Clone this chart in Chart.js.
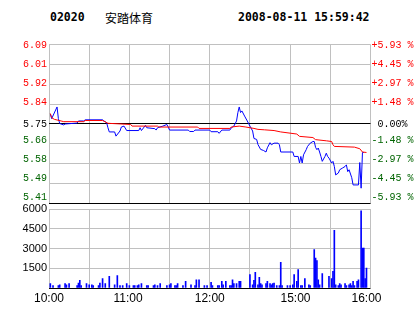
<!DOCTYPE html>
<html>
<head>
<meta charset="utf-8">
<script src="https://cdn.jsdelivr.net/npm/chart.js@4.4.0/dist/chart.umd.min.js"></script>
<style>
  body { margin: 0; background: #fff; }
  #wrap { position: relative; width: 414px; height: 314px; overflow: hidden; background: #fff; }
  #wrap canvas { position: absolute; left: 0; top: 0; }
  .hd { position: absolute; top: 10px; line-height: 12px; white-space: pre; color: #000; }
  .mono { font: bold 11.5px "DejaVu Sans Mono", monospace; }
  .name { top: 9px; font: 12px "Noto Sans CJK SC", sans-serif; }
</style>
</head>
<body>
<div id="wrap">
  <div class="hd mono" style="left:50px">02020</div>
  <div class="hd name" style="left:105px">安踏体育</div>
  <div class="hd mono" style="left:238px">2008-08-11 15:59:42</div>
  <canvas id="priceChart" width="414" height="314"></canvas>
  <canvas id="volumeChart" width="414" height="314"></canvas>
</div>
<script>
// x values are trading minutes after 10:00 (12:30-14:30 lunch break left out, 240 in total)
const priceMinutes = [1, 2, 6, 7, 8, 11, 12, 21, 22, 26, 27, 40, 41, 43, 44, 45, 49, 50, 53, 54, 56, 58, 67, 68, 69, 72, 73, 79, 80, 81, 85, 88, 89, 90, 104, 105, 108, 109, 120, 121, 126, 127, 129, 135, 136, 138, 140, 141, 142, 143, 144, 146, 148, 150, 152, 153, 155, 156, 158, 160, 162, 163, 165, 166, 168, 171, 172, 173, 182, 183, 186, 187, 188, 189, 190, 192, 193, 195, 197, 198, 199, 200, 201, 202, 203, 204, 206, 207, 208, 209, 211, 212, 213, 214, 216, 217, 219, 221, 222, 223, 224, 226, 227, 231, 232, 233, 234, 235];
const prices = [5.793, 5.773, 5.823, 5.773, 5.752, 5.746, 5.750, 5.754, 5.763, 5.763, 5.768, 5.768, 5.763, 5.756, 5.734, 5.716, 5.716, 5.698, 5.720, 5.737, 5.741, 5.722, 5.722, 5.734, 5.722, 5.744, 5.734, 5.730, 5.724, 5.734, 5.741, 5.748, 5.737, 5.724, 5.724, 5.718, 5.718, 5.724, 5.724, 5.717, 5.717, 5.710, 5.724, 5.724, 5.733, 5.741, 5.763, 5.799, 5.823, 5.799, 5.806, 5.784, 5.763, 5.741, 5.720, 5.688, 5.684, 5.662, 5.641, 5.637, 5.630, 5.648, 5.670, 5.661, 5.668, 5.668, 5.661, 5.630, 5.630, 5.611, 5.611, 5.583, 5.611, 5.583, 5.618, 5.640, 5.654, 5.668, 5.675, 5.675, 5.650, 5.640, 5.647, 5.630, 5.611, 5.590, 5.611, 5.625, 5.611, 5.604, 5.583, 5.590, 5.568, 5.532, 5.540, 5.554, 5.561, 5.568, 5.575, 5.546, 5.554, 5.520, 5.489, 5.489, 5.585, 5.475, 5.628, 5.628];

const avgMinutes = [1, 2, 4, 9, 11, 26, 27, 40, 44, 61, 62, 81, 82, 111, 112, 135, 136, 142, 147, 153, 156, 161, 168, 173, 185, 187, 197, 199, 207, 211, 212, 213, 228, 232, 234, 237];
const avgPrices = [5.795, 5.777, 5.770, 5.763, 5.760, 5.760, 5.765, 5.765, 5.753, 5.748, 5.741, 5.741, 5.737, 5.737, 5.731, 5.731, 5.737, 5.741, 5.737, 5.731, 5.727, 5.725, 5.722, 5.716, 5.707, 5.697, 5.692, 5.683, 5.678, 5.675, 5.661, 5.654, 5.651, 5.644, 5.630, 5.628];

const volMinutes = [1, 3, 7, 8, 12, 13, 15, 21, 22, 23, 24, 28, 30, 32, 33, 37, 38, 40, 42, 45, 49, 51, 53, 55, 58, 60, 63, 64, 66, 67, 69, 73, 74, 78, 79, 81, 83, 88, 90, 91, 94, 95, 96, 100, 102, 106, 109, 110, 112, 116, 118, 121, 122, 126, 127, 129, 130, 132, 135, 136, 137, 138, 140, 142, 143, 150, 152, 153, 154, 156, 157, 158, 159, 162, 163, 165, 166, 167, 168, 170, 172, 173, 174, 178, 180, 182, 183, 185, 186, 188, 189, 191, 194, 195, 198, 199, 200, 201, 202, 204, 209, 211, 212, 213, 214, 216, 217, 218, 221, 222, 224, 225, 226, 227, 228, 230, 231, 233, 234, 235, 236, 237];
const volumes = [330, 180, 180, 250, 330, 250, 330, 180, 380, 580, 180, 330, 250, 250, 180, 180, 380, 710, 330, 890, 250, 940, 180, 180, 330, 180, 180, 180, 180, 250, 330, 180, 180, 180, 250, 180, 330, 180, 250, 330, 180, 180, 330, 180, 510, 250, 180, 630, 630, 180, 180, 430, 180, 180, 180, 510, 250, 510, 180, 180, 630, 330, 330, 510, 510, 1010, 250, 580, 1190, 250, 810, 330, 250, 330, 510, 330, 250, 330, 380, 180, 180, 1950, 180, 180, 180, 250, 1010, 510, 1390, 180, 180, 710, 250, 180, 2910, 2280, 2080, 630, 250, 1090, 890, 710, 1270, 4380, 250, 180, 330, 250, 330, 180, 250, 330, 180, 510, 180, 510, 630, 5870, 3040, 3040, 710, 1520];

const prevClose = 5.75;
const priceTickLabels = ["5.41", "5.49", "5.58", "5.66", "5.75", "5.84", "5.92", "6.01", "6.09"];
const pctTickLabels = ["-5.93 %", "-4.45 %", "-2.97 %", "-1.48 %", " 0.00%", "+1.48 %", "+2.97 %", "+4.45 %", "+5.93 %"];
const volTickLabels = ["", "1500", "3000", "4500", "6000"];
const timeLabels = ["10:00", "11:00", "12:00", "15:00", "16:00"];
const timeLabelMinutes = [0, 59, 120, 184, 237];

const GRID = "#c0c0c0";
const UP = "#ff0000";
const DOWN = "#006400";

const pts = (xs, ys) => xs.map((x, i) => ({ x: x, y: ys[i] }));

const lo = prevClose * (1 - 0.0593);
const hi = prevClose * (1 + 0.0593);

// labels sit on a slightly tighter pitch than the grid, 0.00% stays on its line
const labelMin = -0.35, labelMax = 8.03;
const labelSlots = priceTickLabels.map((_, i) => (i === 4 ? (labelMin + labelMax) / 2 : i));

const labelColor = (ctx) => (ctx.index < 4 ? DOWN : ctx.index > 4 ? UP : "#000");
const monoFont = { family: "Liberation Mono", size: 10 };

const timeGrid = {
  type: "linear",
  min: 0,
  max: 240,
  offset: false,
  ticks: { display: false, stepSize: 30 },
  grid: { color: GRID, drawTicks: false, offset: false },
  border: { display: false },
  afterFit: (axis) => { axis.height = 0; },
};

new Chart(document.getElementById("priceChart"), {
  type: "line",
  data: {
    datasets: [
      { data: pts(avgMinutes, avgPrices), borderColor: UP, borderWidth: 1, pointRadius: 0 },
      { data: pts(priceMinutes, prices), borderColor: "#0000ff", borderWidth: 1, pointRadius: 0 },
    ],
  },
  options: {
    responsive: false,
    animation: false,
    layout: { padding: { top: 44.4, bottom: 110.4, left: 0, right: 0 } },
    plugins: { legend: { display: false }, tooltip: { enabled: false } },
    scales: {
      x: timeGrid,
      y: {
        min: lo,
        max: hi,
        afterBuildTicks: (axis) => {
          axis.ticks = priceTickLabels.map((_, i) => ({ value: lo + (i * (hi - lo)) / 8 }));
        },
        ticks: { display: false },
        grid: { color: (ctx) => (ctx.index === 0 || ctx.index === 4 ? "#000" : GRID), drawTicks: false },
        border: { display: false },
        afterFit: (axis) => { axis.width = 0; },
      },
      yl: {
        position: "left",
        min: labelMin,
        max: labelMax,
        afterBuildTicks: (axis) => { axis.ticks = labelSlots.map((v) => ({ value: v })); },
        ticks: { callback: (v, i) => priceTickLabels[i], color: labelColor, font: monoFont, padding: 2, autoSkip: false },
        grid: { display: false, drawTicks: false },
        border: { display: false },
        afterFit: (axis) => { axis.width = 49; },
      },
      yr: {
        position: "right",
        min: labelMin,
        max: labelMax,
        afterBuildTicks: (axis) => { axis.ticks = labelSlots.map((v) => ({ value: v })); },
        ticks: { callback: (v, i) => pctTickLabels[i], color: labelColor, font: monoFont, padding: 1, autoSkip: false },
        grid: { display: false, drawTicks: false },
        border: { display: false },
        afterFit: (axis) => { axis.width = 43.5; },
      },
    },
  },
});

new Chart(document.getElementById("volumeChart"), {
  type: "bar",
  data: {
    datasets: [
      { data: pts(volMinutes, volumes), backgroundColor: "#0000ff", barThickness: 1 },
    ],
  },
  options: {
    responsive: false,
    animation: false,
    layout: { padding: { top: 209, bottom: 6, left: 0, right: 43.5 } },
    plugins: { legend: { display: false }, tooltip: { enabled: false } },
    scales: {
      x: timeGrid,
      xl: {
        type: "linear",
        position: "bottom",
        min: 0,
        max: 240,
        offset: false,
        afterBuildTicks: (axis) => { axis.ticks = timeLabelMinutes.map((v) => ({ value: v })); },
        ticks: {
          callback: (v, i) => timeLabels[i],
          color: "#000",
          font: { family: "Liberation Sans", size: 12 },
          padding: 3,
          maxRotation: 0,
          autoSkip: false,
        },
        grid: { display: false, drawTicks: false, offset: false },
        border: { display: false },
        afterFit: (axis) => { axis.height = 20; },
      },
      y: {
        min: 0,
        max: 6000,
        ticks: {
          stepSize: 1500,
          callback: (v, i) => volTickLabels[i],
          color: "#000",
          font: { family: "Liberation Sans", size: 11 },
          padding: 2,
        },
        grid: { color: (ctx) => (ctx.index === 0 ? "#000" : GRID), drawTicks: false },
        border: { display: false },
        afterFit: (axis) => { axis.width = 49; },
      },
    },
  },
});
</script>
</body>
</html>
